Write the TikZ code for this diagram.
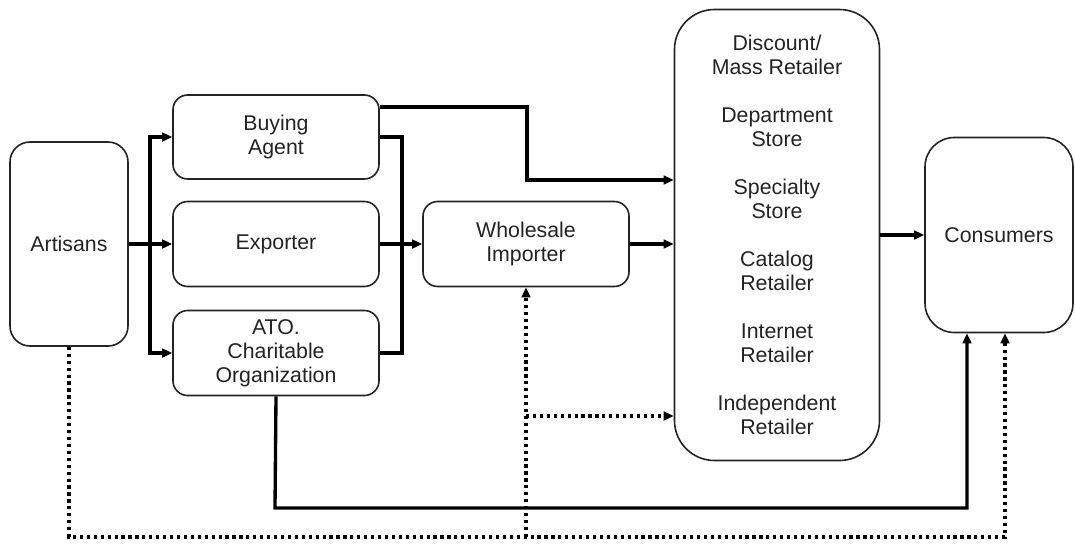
\documentclass[tikz,border=0pt]{standalone}
\usepackage{fontspec}
\setmainfont{Liberation Sans}
\usetikzlibrary{arrows.meta,calc,positioning}
\definecolor{fg}{RGB}{0,0,0}
\definecolor{rim}{RGB}{35,35,35}
\tikzset{
  every picture/.style={fg, line cap=butt, line join=miter,
    >={Triangle[length=7.5pt,width=6.5pt]}},
  every node/.style={font=\fontsize{16pt}{18pt}\selectfont, text=rim},
  % Kästen
  box/.style={draw=rim, line width=1.2pt, rounded corners=#1, align=center, inner sep=0pt},
  box/.default=11pt,
  sz/.style 2 args={minimum width=#1*0.75pt, minimum height=#2*0.75pt},
  % Linientypen
  flow/.style={line width=2.5pt, ->},
  flowline/.style={line width=2.5pt},
  dots/.style={line width=2.5pt, dash pattern=on 2.4pt off 2.8pt},
}
\begin{document}
\begin{tikzpicture}[x=0.75pt, y=-0.75pt]
  \useasboundingbox (0,0) rectangle (1075,544);
  % Stufen der Kette
  \node[box=15pt, sz={118}{204}] (art) at (69,244) {Artisans};
  \node[box, sz={206}{84}] (buy) at (276,137) {Buying\\Agent};
  \node[box, sz={206}{85}] (exp) at (276,244) {Exporter};
  \node[box, sz={206}{85}] (ato) at (276,353) {ATO.\\Charitable\\Organization};
  \node[box, sz={206}{85}] (whl) at (526,244) {Wholesale\\Importer};
  \node[box=30pt, sz={205}{451}] (ret) at (777,235)
    {Discount/\\Mass Retailer\\[18pt]Department\\Store\\[18pt]Specialty\\Store\\[18pt]%
     Catalog\\Retailer\\[18pt]Internet\\Retailer\\[18pt]Independent\\Retailer};
  \node[box=22pt, sz={148}{195}] (con) at (999,235) {Consumers};
  % Verzweigung hinter Artisans
  \coordinate (sp) at (150,244);
  \draw[flowline] (art.east) -- (sp);
  \draw[flow] (sp) |- (buy.west);
  \draw[flow] (sp) -- (exp.west);
  \draw[flow] (sp) |- (ato.west);
  % Zusammenführung vor dem Importeur
  \coordinate (mg) at (402,244);
  \draw[flowline] (buy.east) -- (buy.east -| mg) -- (ato.east -| mg) -- (ato.east);
  \draw[flow] (exp) -- (whl);
  % direkt zum Einzelhandel
  \coordinate (bt) at ($(buy.east)+(0,-30)$);
  \draw[flow] (bt) -- (527,107) -- (527,180) -- (ret.west |- 527,180);
  \draw[flow] (whl) -- (ret.west |- whl);
  \draw[flow] (ret) -- (con);
  \draw[flow] (ato.south) -- (275,508) -| ($(con.south)+(-32,0)$);
  % gepunktete Wege
  \draw[dots, ->] (art.south) -- (69,537) -| ($(con.south)+(6,0)$);
  \draw[dots, ->] (whl.south |- 0,537) -- (whl.south);
  \draw[dots, ->] (whl.south |- 0,416) -- (ret.west |- 0,416);
\end{tikzpicture}
\end{document}
